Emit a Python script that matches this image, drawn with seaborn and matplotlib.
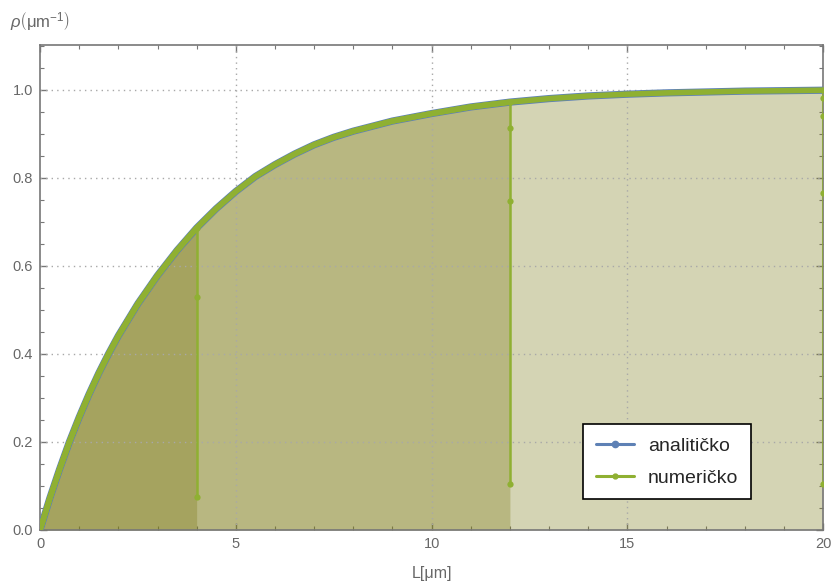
import numpy as np
import pandas as pd
import matplotlib
matplotlib.use("Agg")
import matplotlib.pyplot as plt
from matplotlib.lines import Line2D
from matplotlib.ticker import MultipleLocator
import seaborn as sns

# ---- data ----
L_um = [0, 0.25, 0.5, 0.75, 1, 1.25, 1.5, 1.75, 2, 2.5, 3, 3.5, 4, 4.5, 5, 5.5,
        6, 6.5, 7, 7.5, 8, 9, 10, 11, 12, 13, 14, 15, 16, 17, 18, 19, 20]
rho_analytic = [0.0, 0.072, 0.138, 0.200, 0.256, 0.308, 0.356, 0.400, 0.441, 0.514,
                0.578, 0.635, 0.686, 0.730, 0.769, 0.803, 0.830, 0.854, 0.875,
                0.892, 0.906, 0.929, 0.946, 0.961, 0.972, 0.980, 0.986, 0.990,
                0.993, 0.995, 0.997, 0.998, 0.999]
rho_numeric = rho_analytic  # numeric solution overlaps the analytic curve

domain_ends = [4, 12, 20]
drop_values = {4: [0.53, 0.075], 12: [0.914, 0.748, 0.105], 20: [0.982, 0.941, 0.766, 0.105]}

x_ticks = [0, 5, 10, 15, 20]
y_ticks = [0.0, 0.2, 0.4, 0.6, 0.8, 1.0]

BLUE = "#5e81b5"
GREEN = "#8fb032"
FILL = (127 / 255, 125 / 255, 28 / 255)
GRAY = "#676767"

sns.set_theme(style="white")
plt.rcParams["font.family"] = ["Liberation Sans", "DejaVu Sans"]
plt.rcParams["mathtext.fontset"] = "custom"
plt.rcParams["mathtext.rm"] = "Liberation Sans"
plt.rcParams["mathtext.it"] = "Liberation Sans:italic"

fig = plt.figure(figsize=(8.34, 5.83), dpi=100)
ax = fig.add_axes([0.048, 0.091, 0.939, 0.832])

# fills for the three numeric datasets
for Lmax in domain_ends:
    xs = [x for x in L_um if x <= Lmax]
    ys = [y for x, y in zip(L_um, rho_numeric) if x <= Lmax]
    xs = xs + [Lmax] * len(drop_values[Lmax])
    ys = ys + drop_values[Lmax]
    ax.fill_between(xs, ys, 0, color=FILL, alpha=0.33, linewidth=0, zorder=1)

# analytic curve
df_a = pd.DataFrame({"L": L_um, "rho": rho_analytic})
sns.lineplot(data=df_a, x="L", y="rho", ax=ax, color=BLUE, lw=5.2,
             estimator=None, sort=False, zorder=3)

# numeric curves
for Lmax in domain_ends:
    xs = [x for x in L_um if x <= Lmax]
    ys = [y for x, y in zip(L_um, rho_numeric) if x <= Lmax]
    df_c = pd.DataFrame({"L": xs, "rho": ys})
    sns.lineplot(data=df_c, x="L", y="rho", ax=ax, color=GREEN, lw=4.0,
                 estimator=None, sort=False, zorder=4)
    df_d = pd.DataFrame({"L": [Lmax] * (len(drop_values[Lmax]) + 1),
                         "rho": [ys[-1]] + drop_values[Lmax]})
    sns.lineplot(data=df_d, x="L", y="rho", ax=ax, color=GREEN, lw=1.8,
                 marker="o", markersize=4.5, markeredgewidth=0,
                 estimator=None, sort=False, zorder=4)

ax.set_xlim(0, 20)
ax.set_ylim(0, 1.102)
ax.set_xticks(x_ticks)
ax.set_xticklabels([str(t) for t in x_ticks])
ax.set_yticks(y_ticks)
ax.set_yticklabels([f"{t:.1f}" for t in y_ticks])
ax.xaxis.set_minor_locator(MultipleLocator(1))
ax.yaxis.set_minor_locator(MultipleLocator(0.05))
ax.tick_params(which="both", direction="in", top=True, right=True,
               bottom=True, left=True, color="#777777", labelcolor=GRAY, labelsize=10.5)
ax.tick_params(which="major", length=5, width=1, pad=5)
ax.tick_params(which="minor", length=3, width=0.8)
for s in ax.spines.values():
    s.set_color("#777777")
    s.set_linewidth(1.2)

for gx in [5, 10, 15]:
    ax.axvline(gx, color="#a8a8a8", lw=1, ls=(0, (1, 3)), zorder=2)
for gy in [0.2, 0.4, 0.6, 0.8, 1.0]:
    ax.axhline(gy, color="#a8a8a8", lw=1, ls=(0, (1, 3)), zorder=2)

ax.set_xlabel("")
ax.set_ylabel("")
fig.text(0.518, 0.0155, "L[μm]", color=GRAY, fontsize=11.5, ha="center", va="center")
fig.text(0.012, 0.962, r"$\it{\rho}\left(\mathrm{\mu m}^{-1}\right)$", color=GRAY,
         fontsize=12, ha="left", va="center")

handles = [Line2D([0], [0], color=BLUE, lw=2.2, marker="o", markersize=4.5),
           Line2D([0], [0], color=GREEN, lw=2.2, marker="o", markersize=3.5)]
leg = ax.legend(handles, ["analitičko", "numeričko"], loc="lower right",
                bbox_to_anchor=(0.908, 0.063), fontsize=14, frameon=True,
                fancybox=False, edgecolor="black", framealpha=1,
                handlelength=1.95, handletextpad=0.75, borderpad=0.65,
                labelspacing=0.75, borderaxespad=0)
leg.get_frame().set_linewidth(1.2)

fig.savefig("out.png", dpi=100)
